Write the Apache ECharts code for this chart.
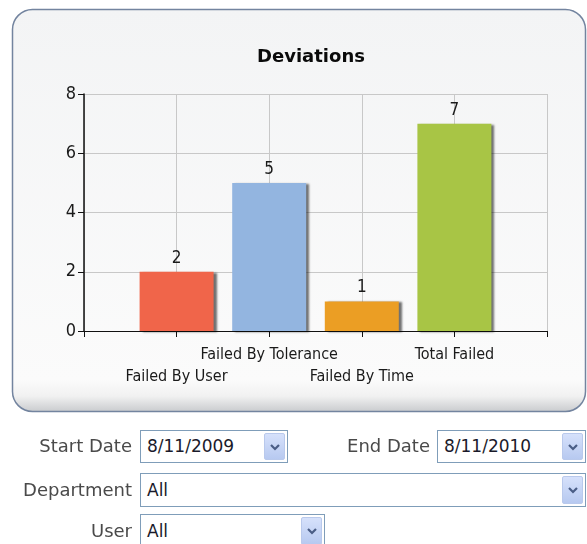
<!DOCTYPE html>
<html>
<head>
<meta charset="utf-8">
<script src="https://cdn.jsdelivr.net/npm/echarts@6/dist/echarts.min.js"></script>
<style>
  html, body { margin: 0; padding: 0; background: #ffffff; }
  #wrap { position: relative; width: 587px; height: 544px; overflow: hidden; }
  #chart { position: absolute; left: 0; top: 0; width: 587px; height: 544px; }
  .lbl { position: absolute; font-family: "DejaVu Sans", sans-serif; font-size: 18px; color: #4a4a4a; text-align: right; line-height: 20px; }
  .box { position: absolute; box-sizing: border-box; border: 1px solid #7f9db9; background: #ffffff; font-family: "DejaVu Sans", sans-serif; font-size: 17px; color: #1a1a2a; padding-left: 6px; }
  .btn { position: absolute; top: 2px; right: 2px; bottom: 2px; width: 21px; box-sizing: border-box; border: 1px solid #b9c9ec; border-radius: 2px; background: linear-gradient(#d6e1fb, #b7c9f0); }
  .btn svg { position: absolute; left: 5px; top: 50%; margin-top: -4px; }
</style>
</head>
<body>
<div id="wrap">
  <div id="chart"></div>
</div>
<script>
// ---- data ----
const chartTitle = 'Deviations';
const categories = ['', 'Failed By User', 'Failed By Tolerance', 'Failed By Time', 'Total Failed', ''];
const values = ['-', 2, 5, 1, 7, '-'];
const barColors = ['#f0654a', '#f0654a', '#93b5e0', '#eb9e24', '#a8c545', '#a8c545'];
const yTicks = { min: 0, max: 8, interval: 2 };
const formFields = [
  { label: 'Start Date', value: '8/11/2009' },
  { label: 'End Date', value: '8/11/2010' },
  { label: 'Department', value: 'All' },
  { label: 'User', value: 'All' }
];

// ---- form (HTML controls below the chart panel) ----
const wrap = document.getElementById('wrap');
const chev = '<svg width="10" height="8" viewBox="0 0 10 8"><path d="M1 2 L5 6 L9 2" stroke="#4a5d86" stroke-width="2.2" fill="none"/></svg>';
const layout = [
  { lx: 0, lw: 132, ly: 436, bx: 140, by: 430, bw: 148, bh: 33 },
  { lx: 300, lw: 130, ly: 436, bx: 437, by: 430, bw: 149, bh: 33 },
  { lx: 0, lw: 132, ly: 480, bx: 140, by: 473, bw: 446, bh: 34 },
  { lx: 0, lw: 132, ly: 521, bx: 140, by: 514, bw: 185, bh: 34 }
];
formFields.forEach((f, i) => {
  const p = layout[i];
  const l = document.createElement('div');
  l.className = 'lbl';
  l.style.left = p.lx + 'px'; l.style.width = p.lw + 'px'; l.style.top = p.ly + 'px';
  l.textContent = f.label;
  wrap.appendChild(l);
  const b = document.createElement('div');
  b.className = 'box';
  b.style.left = p.bx + 'px'; b.style.top = p.by + 'px';
  b.style.width = p.bw + 'px'; b.style.height = p.bh + 'px';
  b.style.lineHeight = (p.bh - 2) + 'px';
  b.innerHTML = '<span></span><div class="btn">' + chev + '</div>';
  b.querySelector('span').textContent = f.value;
  wrap.appendChild(b);
});

// ---- chart ----
const chart = echarts.init(document.getElementById('chart'), null, { renderer: 'canvas' });
const axisFont = '"DejaVu Sans Condensed", "DejaVu Sans", sans-serif';
chart.setOption({
  animation: false,
  backgroundColor: 'transparent',
  graphic: [{
    type: 'rect',
    z: -10,
    shape: { x: 12.5, y: 9.5, width: 573, height: 402, r: 20 },
    style: {
      fill: {
        type: 'linear', x: 0, y: 0, x2: 0, y2: 1,
        colorStops: [
          { offset: 0, color: '#f3f4f5' },
          { offset: 0.92, color: '#fbfbfb' },
          { offset: 0.96, color: '#f1f1f1' },
          { offset: 1, color: '#c8cacd' }
        ]
      },
      stroke: '#73849f',
      lineWidth: 1.5
    }
  }],
  title: {
    text: chartTitle,
    left: 306,
    textAlign: 'center',
    top: 43,
    textStyle: { fontFamily: '"DejaVu Sans", sans-serif', fontWeight: 'bold', fontSize: 18, color: '#0a0a0a' }
  },
  grid: { left: 84, top: 94, width: 463, height: 237 },
  xAxis: {
    type: 'category',
    data: categories,
    boundaryGap: false,
    axisLine: { lineStyle: { color: '#111111', width: 1 } },
    axisTick: { show: true, length: 6, inside: false, interval: 0, lineStyle: { color: '#111111' } },
    splitLine: { show: true, interval: 0, lineStyle: { color: '#c8c8c8', width: 1 } },
    axisLabel: {
      interval: 0,
      margin: 13,
      lineHeight: 22,
      fontFamily: axisFont,
      fontSize: 16,
      color: '#1a1a1a',
      formatter: (v, i) => (i % 2 === 1 ? '\n' + v : v)
    }
  },
  yAxis: {
    type: 'value',
    min: yTicks.min,
    max: yTicks.max,
    interval: yTicks.interval,
    axisLine: { show: true, lineStyle: { color: '#111111', width: 1.5 } },
    axisTick: { show: true, length: 6, lineStyle: { color: '#111111' } },
    splitLine: { show: true, lineStyle: { color: '#c8c8c8', width: 1 } },
    axisLabel: { margin: 8, fontFamily: axisFont, fontSize: 18, color: '#1a1a1a' }
  },
  series: [{
    type: 'bar',
    data: values.map((v, i) => ({ value: v, itemStyle: { color: barColors[i] } })),
    barWidth: 74,
    itemStyle: {
      shadowColor: 'rgba(0,0,0,0.55)',
      shadowOffsetX: 3,
      shadowOffsetY: 1,
      shadowBlur: 2
    },
    label: {
      show: true,
      position: 'top',
      distance: 5,
      fontFamily: axisFont,
      fontSize: 17,
      color: '#1a1a1a'
    }
  }]
});
</script>
</body>
</html>
